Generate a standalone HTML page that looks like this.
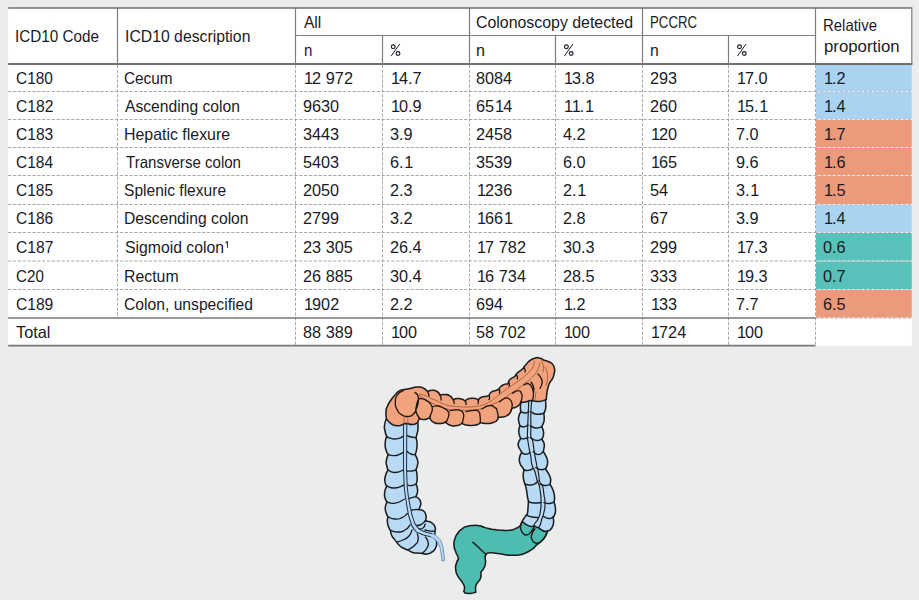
<!DOCTYPE html>
<html lang="en"><head><meta charset="utf-8"><title>Location of colorectal cancers by ICD10 code</title>
<style>
html,body{margin:0;padding:0}
body{width:919px;height:600px;overflow:hidden;position:relative;background:#ebeded;font-family:"Liberation Sans",sans-serif;color:#1b1b26}
#g{position:absolute;left:0;top:0}
.t{position:absolute;white-space:nowrap;font-size:16.5px;line-height:18.430px;height:18.430px;transform-origin:0 0;display:block}
.p{color:transparent}
.s{font-size:9.5px;line-height:10.6px;height:10.6px;color:transparent}
.d{transform:scaleX(.985);word-spacing:.2px}
.d i{font-style:normal;margin:0 -.1px}
.d b{font-weight:normal;position:relative;left:.9px}
</style></head><body>
<svg id="g" width="919" height="600" viewBox="0 0 919 600">
<rect x="8.2" y="8.0" width="903.5999999999999" height="337.8" fill="#fff"/>
<rect x="816.00" y="64.90" width="95.80" height="26.10" fill="#a9d3f0"/>
<rect x="816.00" y="92.00" width="95.80" height="27.00" fill="#a9d3f0"/>
<rect x="816.00" y="120.00" width="95.80" height="27.00" fill="#eb9a7b"/>
<rect x="816.00" y="148.00" width="95.80" height="27.00" fill="#eb9a7b"/>
<rect x="816.00" y="176.00" width="95.80" height="28.00" fill="#eb9a7b"/>
<rect x="816.00" y="205.00" width="95.80" height="27.00" fill="#a9d3f0"/>
<rect x="816.00" y="233.00" width="95.80" height="27.50" fill="#58c1ba"/>
<rect x="816.00" y="261.50" width="95.80" height="27.50" fill="#58c1ba"/>
<rect x="816.00" y="290.00" width="95.80" height="27.50" fill="#eb9a7b"/>
<line x1="8.20" y1="8.00" x2="912.40" y2="8.00" stroke="#6f6f6f" stroke-width="1.7"/>
<line x1="8.20" y1="64.00" x2="912.40" y2="64.00" stroke="#6f6f6f" stroke-width="1.8"/>
<line x1="295.50" y1="35.50" x2="815.50" y2="35.50" stroke="#7d7d7d" stroke-width="1.2"/>
<line x1="117.50" y1="8.00" x2="117.50" y2="64.00" stroke="#7d7d7d" stroke-width="1.2"/>
<line x1="295.50" y1="8.00" x2="295.50" y2="64.00" stroke="#7d7d7d" stroke-width="1.2"/>
<line x1="469.50" y1="8.00" x2="469.50" y2="64.00" stroke="#7d7d7d" stroke-width="1.2"/>
<line x1="642.50" y1="8.00" x2="642.50" y2="64.00" stroke="#7d7d7d" stroke-width="1.2"/>
<line x1="815.50" y1="8.00" x2="815.50" y2="64.00" stroke="#7d7d7d" stroke-width="1.2"/>
<line x1="911.80" y1="8.00" x2="911.80" y2="64.00" stroke="#7d7d7d" stroke-width="1.2"/>
<line x1="382.50" y1="35.50" x2="382.50" y2="64.00" stroke="#7d7d7d" stroke-width="1.2"/>
<line x1="555.50" y1="35.50" x2="555.50" y2="64.00" stroke="#7d7d7d" stroke-width="1.2"/>
<line x1="728.50" y1="35.50" x2="728.50" y2="64.00" stroke="#7d7d7d" stroke-width="1.2"/>
<line x1="8.20" y1="91.50" x2="815.50" y2="91.50" stroke="#a8a8a8" stroke-width="1" stroke-dasharray="3.2 1.65"/>
<line x1="815.50" y1="91.50" x2="911.80" y2="91.50" stroke="#8c8c8c" stroke-width="1" stroke-dasharray="3.2 1.65" stroke-opacity=".55"/>
<line x1="8.20" y1="119.50" x2="815.50" y2="119.50" stroke="#a8a8a8" stroke-width="1" stroke-dasharray="3.2 1.65"/>
<line x1="815.50" y1="119.50" x2="911.80" y2="119.50" stroke="#8c8c8c" stroke-width="1" stroke-dasharray="3.2 1.65" stroke-opacity=".55"/>
<line x1="8.20" y1="147.50" x2="815.50" y2="147.50" stroke="#a8a8a8" stroke-width="1" stroke-dasharray="3.2 1.65"/>
<line x1="815.50" y1="147.50" x2="911.80" y2="147.50" stroke="#8c8c8c" stroke-width="1" stroke-dasharray="3.2 1.65" stroke-opacity=".55"/>
<line x1="8.20" y1="175.50" x2="815.50" y2="175.50" stroke="#a8a8a8" stroke-width="1" stroke-dasharray="3.2 1.65"/>
<line x1="815.50" y1="175.50" x2="911.80" y2="175.50" stroke="#8c8c8c" stroke-width="1" stroke-dasharray="3.2 1.65" stroke-opacity=".55"/>
<line x1="8.20" y1="204.50" x2="815.50" y2="204.50" stroke="#a8a8a8" stroke-width="1" stroke-dasharray="3.2 1.65"/>
<line x1="815.50" y1="204.50" x2="911.80" y2="204.50" stroke="#8c8c8c" stroke-width="1" stroke-dasharray="3.2 1.65" stroke-opacity=".55"/>
<line x1="8.20" y1="232.50" x2="815.50" y2="232.50" stroke="#a8a8a8" stroke-width="1" stroke-dasharray="3.2 1.65"/>
<line x1="815.50" y1="232.50" x2="911.80" y2="232.50" stroke="#8c8c8c" stroke-width="1" stroke-dasharray="3.2 1.65" stroke-opacity=".55"/>
<line x1="8.20" y1="261.00" x2="815.50" y2="261.00" stroke="#a8a8a8" stroke-width="1" stroke-dasharray="3.2 1.65"/>
<line x1="815.50" y1="261.00" x2="911.80" y2="261.00" stroke="#8c8c8c" stroke-width="1" stroke-dasharray="3.2 1.65" stroke-opacity=".55"/>
<line x1="8.20" y1="289.50" x2="815.50" y2="289.50" stroke="#a8a8a8" stroke-width="1" stroke-dasharray="3.2 1.65"/>
<line x1="815.50" y1="289.50" x2="911.80" y2="289.50" stroke="#8c8c8c" stroke-width="1" stroke-dasharray="3.2 1.65" stroke-opacity=".55"/>
<line x1="117.50" y1="65.00" x2="117.50" y2="318.00" stroke="#a8a8a8" stroke-width="1" stroke-dasharray="3.2 1.65"/>
<line x1="295.50" y1="65.00" x2="295.50" y2="346.00" stroke="#a8a8a8" stroke-width="1" stroke-dasharray="3.2 1.65"/>
<line x1="382.50" y1="65.00" x2="382.50" y2="346.00" stroke="#a8a8a8" stroke-width="1" stroke-dasharray="3.2 1.65"/>
<line x1="469.50" y1="65.00" x2="469.50" y2="346.00" stroke="#a8a8a8" stroke-width="1" stroke-dasharray="3.2 1.65"/>
<line x1="555.50" y1="65.00" x2="555.50" y2="346.00" stroke="#a8a8a8" stroke-width="1" stroke-dasharray="3.2 1.65"/>
<line x1="642.50" y1="65.00" x2="642.50" y2="346.00" stroke="#a8a8a8" stroke-width="1" stroke-dasharray="3.2 1.65"/>
<line x1="728.50" y1="65.00" x2="728.50" y2="346.00" stroke="#a8a8a8" stroke-width="1" stroke-dasharray="3.2 1.65"/>
<line x1="815.50" y1="65.00" x2="815.50" y2="346.00" stroke="#a8a8a8" stroke-width="1" stroke-dasharray="3.2 1.65"/>
<line x1="8.20" y1="318.00" x2="815.50" y2="318.00" stroke="#777" stroke-width="1.5"/>
<line x1="815.50" y1="318.00" x2="911.80" y2="318.00" stroke="#a8a8a8" stroke-width="1" stroke-dasharray="3.2 1.65"/>
<line x1="8.20" y1="345.70" x2="815.50" y2="345.70" stroke="#777" stroke-width="1.8"/>
<g fill="none" stroke="#1b1b26" stroke-width="1.15" stroke-linecap="round"><circle cx="393.20" cy="46.8" r="1.9"/><circle cx="398.00" cy="53.5" r="1.9"/><line x1="399.50" y1="44.3" x2="391.40" y2="55.8" stroke-width="1"/></g>
<g fill="none" stroke="#1b1b26" stroke-width="1.15" stroke-linecap="round"><circle cx="566.40" cy="46.8" r="1.9"/><circle cx="571.20" cy="53.5" r="1.9"/><line x1="572.70" y1="44.3" x2="564.60" y2="55.8" stroke-width="1"/></g>
<g fill="none" stroke="#1b1b26" stroke-width="1.15" stroke-linecap="round"><circle cx="739.50" cy="46.8" r="1.9"/><circle cx="744.30" cy="53.5" r="1.9"/><line x1="745.80" y1="44.3" x2="737.70" y2="55.8" stroke-width="1"/></g>
<path d="M225.5 243.1L227.3 241.4M227.45 241.1V247.8" fill="none" stroke="#33333d" stroke-width="1.05"/>
<g id="colon">
<path d="M386.5 418.5C385.9 420.7 385.1 420.8 384.6 425.0C384.1 429.2 384.3 427.2 385.0 431.0C385.7 434.8 386.1 434.7 386.6 436.5C386.1 438.7 385.4 438.5 385.2 443.0C385.0 447.5 385.0 446.2 386.0 450.0C387.0 453.8 387.5 453.0 388.2 454.5C387.6 456.7 386.8 457.2 386.3 461.0C385.8 464.8 386.2 463.0 386.8 466.0C387.4 469.0 387.6 468.7 388.0 470.0C387.1 472.0 386.4 472.0 385.4 476.0C384.4 480.0 384.6 478.7 385.0 482.0C385.4 485.3 386.1 484.7 386.6 486.0C385.9 488.3 385.0 488.7 384.6 493.0C384.2 497.3 384.6 496.0 385.4 499.0C386.2 502.0 386.5 501.0 387.0 502.0C386.5 503.7 385.7 503.5 385.4 507.0C385.1 510.5 385.1 509.2 386.0 512.5C386.9 515.8 387.3 515.5 388.0 517.0C387.8 518.7 387.1 518.5 387.4 522.0C387.7 525.5 387.8 524.7 388.8 527.5C389.8 530.3 389.9 529.4 390.5 530.3C390.8 531.9 390.1 531.9 391.5 535.0C392.9 538.1 392.9 537.3 394.6 539.6C396.3 541.9 395.9 541.2 396.6 542.0C397.7 543.3 397.3 543.7 400.0 546.0C402.7 548.3 401.9 547.5 404.6 548.8C407.3 550.1 406.9 549.6 408.0 550.0C409.5 550.8 409.3 551.4 412.6 552.4C415.9 553.4 414.9 552.7 418.0 553.0C421.1 553.3 420.7 553.3 422.0 553.4C423.7 553.6 423.7 554.5 427.0 554.0C430.3 553.5 429.2 554.0 432.0 552.0C434.8 550.0 434.0 551.0 435.5 548.0C437.0 545.0 436.6 546.3 436.6 543.0C436.6 539.7 436.1 540.8 435.4 538.0C434.7 535.2 434.9 535.7 434.6 534.6C434.7 533.4 434.9 533.5 435.0 531.0C435.1 528.5 436.0 529.7 435.0 527.0C434.0 524.3 434.5 524.9 432.0 523.0C429.5 521.1 429.7 521.9 427.4 521.2C425.1 520.5 425.8 521.1 425.0 521.0C425.3 520.2 425.8 520.9 426.0 518.6C426.2 516.3 426.5 516.7 425.5 514.0C424.5 511.3 425.3 512.1 423.0 510.6C420.7 509.1 420.1 509.9 418.6 509.6C419.0 508.7 419.2 509.2 419.9 507.0C420.6 504.8 421.0 505.7 420.7 503.0C420.4 500.3 420.7 501.1 419.0 499.0C417.3 496.9 416.7 497.4 415.6 496.6C416.1 495.7 416.4 496.5 417.0 494.0C417.6 491.5 417.8 492.3 417.5 489.0C417.2 485.7 416.5 485.7 416.0 484.0C416.3 483.0 416.7 484.0 417.0 481.0C417.3 478.0 417.3 478.8 417.0 475.0C416.7 471.2 416.3 471.4 416.0 469.6C416.5 468.1 417.0 468.2 417.5 465.0C418.0 461.8 418.3 463.5 417.5 460.0C416.7 456.5 415.9 456.4 415.1 454.6C415.6 453.1 415.9 453.9 416.5 450.0C417.1 446.1 417.2 447.1 417.0 443.0C416.8 438.9 416.3 439.4 416.0 437.6C416.3 436.4 416.3 437.2 417.0 434.0C417.7 430.8 417.8 432.3 418.0 428.0C418.2 423.7 417.7 423.3 417.6 421.0C415.1 419.7 417.5 418.7 410.0 417.0C402.5 415.3 402.8 415.5 395.0 416.0C387.2 416.5 389.3 417.7 386.5 418.5Z" fill="#b8daf5" stroke="#1d1d1f" stroke-width="1.55" stroke-linejoin="round" stroke-linecap="round"/>
<path d="M386.6 436.5C388.1 437.1 387.2 437.7 391.0 438.4C394.8 439.1 393.9 439.4 398.0 438.6C402.1 437.8 401.6 436.9 403.4 436.0M388.2 454.5C389.8 454.9 389.4 455.6 393.0 455.6C396.6 455.6 395.5 455.8 399.0 454.6C402.5 453.4 402.0 452.9 403.5 452.0M388.0 470.0C390.3 470.8 389.9 472.5 395.0 472.5C400.1 472.5 400.6 470.8 403.4 470.0M386.6 486.0C389.4 486.7 389.2 488.3 395.0 488.0C400.8 487.7 401.0 486.0 404.0 485.0M387.0 502.0C389.7 502.4 389.1 504.2 395.0 503.2C400.9 502.2 401.4 500.4 404.6 499.0M388.0 517.0C390.3 517.7 390.3 518.8 395.0 519.0C399.7 519.2 397.9 519.4 402.0 517.6C406.1 515.8 405.6 514.9 407.4 513.6M390.5 530.3C393.0 530.9 393.2 532.1 398.0 532.0C402.8 531.9 401.0 532.3 405.0 530.0C409.0 527.7 408.3 526.7 410.0 525.0M396.6 542.0C398.7 541.3 398.9 542.0 403.0 540.0C407.1 538.0 406.0 539.3 409.0 536.0C412.0 532.7 411.0 532.0 412.0 530.0M408.0 550.0C410.3 548.3 411.7 548.3 415.0 545.0C418.3 541.7 417.2 543.7 418.0 540.0C418.8 536.3 417.6 536.0 417.4 534.0M422.0 553.4C423.7 551.6 425.0 551.8 427.0 548.0C429.0 544.2 428.5 545.7 428.0 542.0C427.5 538.3 426.3 538.7 425.4 537.0M407.0 435.4C408.3 435.9 408.0 436.3 411.0 437.0C414.0 437.7 414.3 437.4 416.0 437.6M407.0 451.4C408.3 452.3 408.3 452.9 411.0 454.0C413.7 455.1 413.7 454.4 415.1 454.6M407.0 471.0C408.7 471.0 409.0 471.5 412.0 471.0C415.0 470.5 414.7 470.1 416.0 469.6M407.4 485.2C408.9 485.3 409.1 485.9 412.0 485.5C414.9 485.1 414.7 484.5 416.0 484.0M408.6 499.0C409.7 498.5 409.7 498.4 412.0 497.6C414.3 496.8 414.4 496.9 415.6 496.6M411.0 510.2C412.3 510.0 412.5 509.8 415.0 509.6C417.5 509.4 417.4 509.6 418.6 509.6M415.0 525.0C416.7 525.0 416.7 526.2 420.0 525.0C423.3 523.8 423.3 522.6 425.0 521.4M418.0 529.0C419.7 528.7 420.6 529.7 423.0 528.0C425.4 526.3 424.5 525.3 425.2 524.0M425.0 530.0C427.0 530.4 427.7 530.9 431.0 531.2C434.3 531.5 433.7 531.1 435.0 531.0" fill="none" stroke="#1d1d1f" stroke-width="1.35" stroke-linejoin="round" stroke-linecap="round"/>
<path d="M403.5 424.5C403.5 436.3 403.5 444.8 403.5 460.0C403.5 475.2 403.4 463.3 403.6 470.0C403.8 476.7 403.7 473.3 404.0 480.0C404.3 486.7 403.9 483.3 404.6 490.0C405.3 496.7 405.0 493.3 406.0 500.0C407.0 506.7 406.3 503.3 407.6 510.0C408.9 516.7 407.7 513.5 410.0 520.0C412.3 526.5 410.7 524.9 414.4 529.6C418.1 534.3 415.8 531.7 421.0 534.0C426.2 536.3 425.0 534.3 430.0 536.4C435.0 538.5 432.9 537.2 436.0 540.4C439.1 543.6 437.7 541.8 439.4 546.0C441.1 550.2 440.1 548.1 441.0 553.0C441.9 557.9 441.7 558.1 442.0 560.6L444.4 560.2C444.1 557.5 444.4 557.4 443.6 552.0C442.8 546.6 443.9 548.9 442.0 544.0C440.1 539.1 441.5 540.9 438.0 537.4C434.5 533.9 436.6 535.5 431.6 533.4C426.6 531.3 427.9 533.3 423.0 531.0C418.1 528.7 420.3 530.7 417.0 526.6C413.7 522.5 415.2 524.1 413.2 518.6C411.2 513.1 412.4 516.2 411.0 510.0C409.6 503.8 410.1 506.7 409.0 500.0C407.9 493.3 408.3 496.7 407.6 490.0C406.9 483.3 407.3 486.7 407.0 480.0C406.7 473.3 406.7 476.7 406.6 470.0C406.5 463.3 406.5 475.3 406.6 460.0C406.7 444.7 406.7 436.0 406.8 424.0Z" fill="#b8daf5" stroke="none" stroke-width="0" stroke-linejoin="round" stroke-linecap="round"/>
<path d="M430.0 536.4C432.0 537.7 432.9 537.2 436.0 540.4C439.1 543.6 437.7 541.8 439.4 546.0C441.1 550.2 440.1 548.1 441.0 553.0C441.9 557.9 441.7 558.1 442.0 560.6M431.6 533.4C433.7 534.7 434.5 533.9 438.0 537.4C441.5 540.9 440.1 539.1 442.0 544.0C443.9 548.9 442.8 546.6 443.6 552.0C444.4 557.4 444.1 557.5 444.4 560.2" fill="none" stroke="#6b8bb0" stroke-width="1.0" stroke-linejoin="round" stroke-linecap="round"/>
<path d="M442.0 560.6 Q443.4 562 444.4 560.2" fill="none" stroke="#6b8bb0" stroke-width="1.0" stroke-linejoin="round" stroke-linecap="round"/>
<path d="M403.5 424.5C403.5 436.3 403.5 444.8 403.5 460.0C403.5 475.2 403.4 463.3 403.6 470.0C403.8 476.7 403.7 473.3 404.0 480.0C404.3 486.7 403.9 483.3 404.6 490.0C405.3 496.7 405.0 493.3 406.0 500.0C407.0 506.7 406.3 503.3 407.6 510.0C408.9 516.7 407.7 513.5 410.0 520.0C412.3 526.5 410.7 524.9 414.4 529.6C418.1 534.3 415.8 531.7 421.0 534.0C426.2 536.3 427.0 535.6 430.0 536.4M406.8 424.0C406.7 436.0 406.7 444.7 406.6 460.0C406.5 475.3 406.5 463.3 406.6 470.0C406.7 476.7 406.7 473.3 407.0 480.0C407.3 486.7 406.9 483.3 407.6 490.0C408.3 496.7 407.9 493.3 409.0 500.0C410.1 506.7 409.6 503.8 411.0 510.0C412.4 516.2 411.2 513.1 413.2 518.6C415.2 524.1 413.7 522.5 417.0 526.6C420.3 530.7 418.1 528.7 423.0 531.0C427.9 533.3 428.7 532.6 431.6 533.4" fill="none" stroke="#26344a" stroke-width="1.05" stroke-linejoin="round" stroke-linecap="round"/>
<path d="M520.8 401.7C520.7 403.6 520.4 404.2 520.4 407.5C520.4 410.8 520.7 410.3 520.8 411.7C520.1 413.4 519.5 413.4 518.8 416.7C518.1 420.0 518.4 418.7 518.8 421.7C519.2 424.7 519.6 424.4 520.0 425.8C519.6 427.5 518.9 427.5 518.8 430.8C518.7 434.1 518.9 433.3 519.6 435.8C520.3 438.3 520.4 437.5 520.8 438.3C520.1 439.7 519.4 439.9 518.6 442.5C517.8 445.1 517.8 443.5 518.4 446.0C519.0 448.5 519.3 447.8 520.4 450.0C521.5 452.2 521.3 451.7 521.7 452.5C521.0 454.2 520.2 453.9 519.6 457.5C519.0 461.1 519.0 460.0 520.0 463.3C521.0 466.6 521.1 465.3 522.5 467.5C523.9 469.7 523.6 469.2 524.2 470.0C523.9 471.7 523.3 471.3 523.2 475.0C523.1 478.7 523.4 478.0 524.0 481.0C524.6 484.0 524.7 483.0 525.0 484.0C525.5 486.0 525.7 485.7 526.5 490.0C527.3 494.3 526.8 493.2 527.5 497.0C528.2 500.8 528.2 500.0 528.5 501.5C528.3 503.7 528.3 504.2 528.0 508.0C527.7 511.8 528.0 510.7 527.5 513.0C527.0 515.3 526.8 514.3 526.5 515.0C525.5 516.3 525.2 516.3 523.5 519.0C521.8 521.7 522.2 521.7 521.5 523.0C523.0 525.0 524.5 527.0 526.0 529.0C530.7 530.3 535.3 531.7 540.0 533.0C542.5 532.3 545.0 531.7 547.5 531.0C548.5 530.5 548.8 531.1 550.4 529.6C552.0 528.1 551.3 529.1 552.4 526.6C553.5 524.1 553.4 525.2 553.6 522.0C553.8 518.8 553.2 518.7 553.0 517.0C553.5 516.3 553.7 517.7 554.5 515.0C555.3 512.3 555.7 513.3 555.5 509.0C555.3 504.7 554.5 504.3 554.0 502.0C554.2 500.3 554.8 501.0 554.5 497.0C554.2 493.0 554.5 494.2 553.0 490.0C551.5 485.8 551.0 486.3 550.0 484.4C550.2 483.3 550.5 483.1 550.6 481.0C550.7 478.9 551.1 480.5 550.4 478.0C549.7 475.5 550.1 476.5 548.4 473.4C546.7 470.3 546.4 470.3 545.4 468.8C545.9 467.8 546.3 468.5 547.0 465.8C547.7 463.1 547.9 464.1 547.5 460.8C547.1 457.5 547.2 458.8 545.8 455.8C544.4 452.8 544.1 453.1 543.3 451.7C543.5 450.8 543.5 451.5 543.8 449.0C544.1 446.5 544.6 447.1 544.2 444.2C543.8 441.3 543.4 442.1 542.6 440.4C541.8 438.7 542.0 439.6 541.7 439.2C542.2 438.1 542.8 438.6 543.3 435.8C543.8 433.0 543.8 433.8 543.3 430.8C542.8 427.8 542.2 428.1 541.7 426.7C542.2 425.6 542.5 425.8 543.3 423.3C544.1 420.8 544.0 422.5 544.2 419.2C544.4 415.9 543.9 415.3 543.8 413.3C544.2 412.5 544.3 413.3 545.0 410.8C545.7 408.3 545.7 409.6 545.8 405.8C545.9 402.0 545.5 401.6 545.4 399.5C541.9 398.7 543.2 396.3 535.0 397.0C526.8 397.7 525.5 400.1 520.8 401.7Z" fill="#b8daf5" stroke="#1d1d1f" stroke-width="1.55" stroke-linejoin="round" stroke-linecap="round"/>
<path d="M520.8 411.7C522.2 412.1 522.3 413.0 525.0 413.0C527.7 413.0 527.5 412.1 528.8 411.7M520.0 425.8C521.4 426.1 521.5 427.1 524.2 426.8C526.9 426.5 526.7 425.6 528.0 425.0M520.8 438.3C521.9 438.5 521.7 439.1 524.2 438.8C526.7 438.5 526.9 437.9 528.2 437.5M521.7 452.5C523.1 453.1 523.0 454.2 525.8 454.2C528.6 454.2 528.6 453.1 530.0 452.5M524.2 470.0C525.6 470.1 525.4 470.9 528.4 470.4C531.4 469.9 531.7 469.1 533.3 468.4M525.0 484.0C527.0 484.3 527.3 485.3 531.0 485.0C534.7 484.7 533.7 484.3 536.0 483.0C538.3 481.7 537.3 481.7 538.0 481.0M528.5 501.5C530.3 502.0 529.8 502.7 534.0 503.0C538.2 503.3 538.7 502.7 541.0 502.5M526.5 515.0C528.3 515.7 528.2 516.2 532.0 517.0C535.8 517.8 536.0 517.3 538.0 517.5M530.8 411.7C532.8 412.5 532.4 413.7 536.7 414.2C541.0 414.7 541.4 413.6 543.8 413.3M530.4 425.8C532.2 426.5 532.0 427.7 535.8 428.0C539.6 428.3 539.7 427.1 541.7 426.7M530.4 437.5C532.2 438.5 532.0 439.8 535.8 440.4C539.6 441.0 539.7 439.6 541.7 439.2M533.3 451.7C535.0 452.7 535.0 454.6 538.3 454.6C541.6 454.6 541.6 452.7 543.3 451.7M535.8 467.5C537.5 468.2 537.6 469.2 540.8 469.6C544.0 470.0 543.9 469.1 545.4 468.8M540.0 484.0C541.7 484.5 541.7 485.4 545.0 485.5C548.3 485.6 548.3 484.8 550.0 484.4M544.0 502.5C545.7 502.8 545.7 503.7 549.0 503.5C552.3 503.3 552.3 502.5 554.0 502.0M543.5 516.5C545.3 517.2 545.8 518.3 549.0 518.5C552.2 518.7 551.7 517.5 553.0 517.0" fill="none" stroke="#1d1d1f" stroke-width="1.45" stroke-linejoin="round" stroke-linecap="round"/>
<path d="M528.8 400.8C528.6 404.4 528.6 403.9 528.3 411.7C528.0 419.5 528.1 415.9 527.8 424.2C527.5 432.5 527.4 431.1 527.4 436.7C527.5 442.3 527.4 437.1 527.9 441.0C528.5 444.9 528.2 443.1 529.1 448.3C530.1 453.5 529.8 451.1 530.8 456.7C531.7 462.3 530.6 460.0 532.0 465.0C533.4 470.0 533.3 466.7 534.9 471.7C536.6 476.7 535.7 475.6 537.0 480.0C538.4 484.4 538.0 481.7 539.0 485.0C540.0 488.3 539.4 485.0 540.0 490.0C540.7 495.0 540.9 493.3 541.0 500.0C541.2 506.7 541.4 504.0 540.5 510.0C539.7 516.0 540.5 513.3 538.5 518.0C536.5 522.7 536.9 520.0 534.5 524.0C532.2 528.0 533.2 526.7 531.5 530.0C529.9 533.3 530.2 532.7 529.5 534.0M531.7 400.8C531.4 404.4 531.2 403.1 530.9 411.7C530.6 420.3 530.9 418.4 530.9 426.7C530.9 435.0 530.4 432.3 530.9 436.7C531.4 441.1 531.5 436.1 532.5 440.0C533.5 443.9 532.9 442.7 533.8 448.3C534.7 453.9 534.1 451.1 535.1 456.7C536.1 462.3 535.6 459.5 536.7 465.0C537.8 470.5 537.5 467.7 538.5 473.3C539.5 478.9 538.4 477.5 539.7 481.7C541.0 485.9 541.1 481.6 542.5 486.0C543.9 490.4 543.2 489.3 544.0 495.0C544.8 500.7 545.0 497.3 545.0 503.0C545.0 508.7 545.2 506.3 544.0 512.0C542.8 517.7 543.0 515.3 541.5 520.0C540.0 524.7 541.8 522.0 539.5 526.0C537.2 530.0 537.0 528.3 534.5 532.0C532.0 535.7 532.8 535.3 532.0 537.0" fill="none" stroke="#1d1d1f" stroke-width="1.15" stroke-linejoin="round" stroke-linecap="round"/>
<path d="M521.5 523.0C521.0 523.9 522.0 523.9 520.0 525.8C518.0 527.7 519.0 527.1 515.5 528.6C512.0 530.1 514.0 529.6 509.5 530.2C505.0 530.8 507.0 530.5 502.0 530.3C497.0 530.1 499.0 530.1 494.5 529.5C490.0 528.9 492.0 529.4 488.5 528.6C485.0 527.8 487.0 528.1 484.0 527.2C481.0 526.3 483.0 526.4 479.5 525.8C476.0 525.2 477.5 525.3 473.5 525.4C469.5 525.5 471.3 525.1 467.5 526.2C463.7 527.3 465.4 526.5 462.2 528.8C459.0 531.1 460.3 529.7 457.8 533.2C455.3 536.7 456.1 535.2 454.8 539.2C453.5 543.2 453.8 541.2 454.0 545.2C454.2 549.2 454.2 547.4 455.5 551.2C456.8 555.0 456.8 554.0 457.8 556.5C458.8 559.0 458.3 558.0 458.5 558.8C457.7 560.5 457.1 560.3 456.2 564.0C455.3 567.7 455.3 566.0 455.8 570.0C456.3 574.0 455.9 572.3 457.8 576.0C459.7 579.7 459.5 578.2 461.5 581.2C463.5 584.2 462.8 582.7 463.8 585.0C464.8 587.3 464.5 585.9 464.5 588.0C464.5 590.1 464.0 590.3 463.8 591.4C464.3 592.0 464.7 592.6 465.2 593.2C467.0 593.3 467.0 593.7 470.5 593.4C474.0 593.1 474.0 592.6 475.8 592.2C475.7 590.8 475.4 590.7 475.6 588.0C475.8 585.3 475.0 587.2 476.5 584.2C478.0 581.2 478.7 582.2 480.2 579.0C481.7 575.8 480.8 576.8 481.0 574.5C481.2 572.2 480.8 573.0 480.7 572.2C481.8 570.7 482.4 571.0 484.0 567.8C485.6 564.6 485.1 565.8 485.5 562.5C485.9 559.2 485.0 560.7 485.2 558.0C485.4 555.3 484.6 556.1 486.2 554.4C487.8 552.7 486.2 553.1 490.0 552.8C493.8 552.5 492.5 552.9 497.5 553.5C502.5 554.1 500.0 554.1 505.0 554.7C510.0 555.3 507.5 555.3 512.5 555.3C517.5 555.3 515.5 555.5 520.0 554.7C524.5 553.9 522.0 554.6 526.0 552.8C530.0 551.0 528.5 551.8 532.0 549.3C535.5 546.8 533.5 547.8 536.5 545.2C539.5 542.6 538.2 544.2 541.0 541.5C543.8 538.8 543.1 539.5 544.8 537.0C546.5 534.5 545.3 536.0 546.2 534.0C547.1 532.0 547.1 532.0 547.5 531.0C547.0 531.2 547.8 531.9 546.0 531.6C544.2 531.3 544.3 531.4 542.0 530.2C539.7 529.0 540.0 528.7 539.0 528.0C538.2 527.7 537.4 527.5 536.6 527.2C535.9 526.8 535.1 526.4 534.4 526.0C533.6 526.2 534.5 526.8 532.0 526.5C529.5 526.2 530.0 526.4 527.0 525.0C524.0 523.6 524.8 522.9 523.0 522.2C521.2 521.5 522.0 522.7 521.5 523.0Z" fill="#4dbdb0" stroke="#1d1d1f" stroke-width="1.55" stroke-linejoin="round" stroke-linecap="round"/>
<path d="M521.5 523.0C521.2 524.7 520.1 524.6 520.6 528.0C521.1 531.4 520.9 530.9 523.0 533.2C525.1 535.5 524.3 535.0 526.8 534.8C529.3 534.6 528.3 534.8 530.5 532.5C532.7 530.2 532.2 530.2 533.5 528.0C534.8 525.8 534.1 526.7 534.4 526.0M535.0 528.8C534.0 530.5 533.0 530.5 532.0 534.0C531.0 537.5 530.7 536.2 532.0 539.2C533.3 542.2 532.8 542.2 535.8 543.0C538.8 543.8 537.8 543.8 541.0 541.5C544.2 539.2 543.5 539.2 545.5 536.2C547.5 533.2 546.5 533.7 547.0 532.5M472.8 542.2C474.3 543.5 474.0 543.0 477.2 546.0C480.4 549.0 479.5 548.4 482.5 551.2C485.5 554.0 485.0 553.3 486.2 554.4" fill="none" stroke="#1d1d1f" stroke-width="1.45" stroke-linejoin="round" stroke-linecap="round"/>
<path d="M386.5 419.0C386.3 416.7 385.7 416.3 386.0 412.0C386.3 407.7 385.8 410.0 387.5 406.0C389.2 402.0 388.5 403.7 391.0 400.0C393.5 396.3 392.3 397.9 395.0 395.0C397.7 392.1 396.0 393.0 399.0 391.2C402.0 389.4 400.3 390.4 404.0 389.5C407.7 388.6 406.7 389.2 410.0 388.5C413.3 387.8 411.0 388.0 414.0 387.5C417.0 387.0 415.7 386.7 419.0 387.0C422.3 387.3 421.2 387.0 424.0 388.5C426.8 390.0 426.3 390.5 427.5 391.5C429.0 391.1 428.8 390.3 432.0 390.3C435.2 390.3 434.3 389.9 437.0 391.5C439.7 393.1 439.0 393.8 440.0 395.0C441.7 394.8 441.7 394.2 445.0 394.5C448.3 394.8 447.3 394.3 450.0 396.0C452.7 397.7 452.0 398.4 453.0 399.6C454.5 399.2 454.5 398.6 457.5 398.5C460.5 398.4 459.4 398.5 462.0 399.3C464.6 400.1 464.1 400.4 465.2 401.0C466.5 400.2 465.9 399.4 469.2 398.6C472.5 397.8 472.0 398.0 475.0 398.5C478.0 399.0 477.2 399.6 478.3 400.2C479.2 399.3 478.3 398.8 481.0 397.5C483.7 396.2 483.8 396.8 486.5 396.2C489.2 395.6 488.2 395.9 489.1 395.8C489.7 394.7 488.5 394.3 490.8 392.5C493.1 390.7 493.3 391.4 496.0 390.4C498.7 389.4 498.0 389.7 499.0 389.4C499.5 388.5 498.7 388.5 500.5 386.8C502.3 385.1 501.9 385.4 504.3 384.4C506.7 383.4 506.4 384.6 507.8 383.8C509.2 383.0 508.2 382.7 508.4 382.1C509.0 381.1 508.1 381.1 510.2 379.2C512.3 377.3 512.9 377.9 514.8 376.3C516.7 374.7 515.6 375.1 516.0 374.5C516.8 373.7 516.0 374.1 518.3 372.2C520.6 370.3 521.2 370.3 523.0 368.7C524.8 367.1 523.4 367.9 523.6 367.5C524.6 366.3 524.4 366.3 526.5 364.0C528.6 361.7 527.3 362.4 530.0 360.5C532.7 358.6 531.6 359.0 534.7 358.2C537.8 357.4 536.3 357.4 539.3 358.0C542.3 358.6 542.2 359.3 543.6 360.0C545.3 360.6 545.8 360.4 548.7 361.7C551.6 363.0 550.3 361.7 552.2 364.0C554.1 366.3 553.9 365.2 554.5 368.7C555.1 372.2 554.7 371.0 553.9 374.5C553.1 378.0 553.6 376.5 552.2 379.2C550.8 381.9 551.2 380.0 549.8 382.7C548.4 385.4 549.1 383.8 548.1 387.3C547.1 390.8 547.5 389.2 546.9 393.2C546.3 397.2 546.5 397.3 546.3 399.4C544.2 400.1 544.1 400.9 540.0 401.4C535.9 401.9 536.9 401.3 534.0 401.0C531.1 400.7 532.3 400.6 531.4 400.4C530.7 400.5 529.9 400.7 529.2 400.8C527.8 401.2 527.9 401.5 525.0 402.0C522.1 402.5 522.1 402.3 520.6 402.4C520.2 403.2 520.9 403.2 519.3 404.8C517.7 406.4 518.1 406.0 515.8 407.2C513.5 408.4 513.8 407.3 512.3 408.3C510.8 409.3 511.6 409.5 511.2 410.1C510.8 411.1 511.6 411.1 510.0 413.0C508.4 414.9 509.2 414.5 506.5 415.9C503.8 417.3 504.5 416.7 501.8 417.1C499.1 417.5 499.5 417.1 498.3 417.1C497.9 418.1 498.7 418.3 497.2 420.0C495.7 421.7 496.8 421.1 493.7 422.3C490.6 423.5 491.7 423.3 487.8 423.5C483.9 423.7 484.5 423.3 482.0 422.9C479.5 422.5 480.9 422.5 480.3 422.3C479.7 422.9 480.7 423.1 478.5 424.1C476.3 425.1 477.3 424.9 473.8 425.3C470.3 425.7 471.5 425.7 468.0 425.3C464.5 424.9 465.2 424.9 463.3 424.1C461.4 423.3 462.6 423.3 462.2 422.9C461.4 423.5 462.1 423.7 459.8 424.7C457.5 425.7 458.3 425.6 455.2 425.8C452.1 426.0 453.2 426.1 450.5 425.3C447.8 424.5 448.6 424.7 447.0 423.5C445.4 422.3 446.2 422.4 445.8 421.8C445.0 422.2 445.8 422.3 443.5 422.9C441.2 423.5 442.2 423.7 439.0 423.6C435.8 423.5 436.8 423.9 434.0 422.5C431.2 421.1 431.9 421.5 430.6 419.5C429.3 417.5 430.2 417.5 430.0 416.5C429.3 417.2 430.3 417.5 428.0 418.5C425.7 419.5 426.0 419.7 423.0 419.5C420.0 419.3 420.3 418.5 419.0 418.0C418.8 418.9 419.3 418.8 418.4 420.6C417.5 422.4 418.5 422.1 416.4 423.4C414.3 424.7 414.8 424.5 412.0 424.6C409.2 424.7 409.3 423.9 408.0 423.6C406.7 423.6 405.3 423.6 404.0 423.6C403.0 424.1 403.7 424.5 401.0 425.2C398.3 425.9 399.3 426.1 396.0 425.6C392.7 425.1 394.2 425.8 391.0 423.6C387.8 421.4 388.0 420.5 386.5 419.0Z" fill="#f0a37d" stroke="#1d1d1f" stroke-width="1.55" stroke-linejoin="round" stroke-linecap="round"/>
<path d="M404.0 416.0C404.0 417.3 404.1 417.5 404.1 420.0C404.1 422.5 404.0 422.4 404.0 423.6M408.0 416.4C407.9 417.6 407.8 417.6 407.8 420.0C407.8 422.4 407.9 422.4 408.0 423.6M414.0 393.0C416.0 394.0 416.3 394.0 420.0 396.0C423.7 398.0 421.0 396.7 425.0 399.0C429.0 401.3 427.1 400.6 432.0 403.0C436.9 405.4 434.5 404.2 439.7 406.3C444.9 408.4 442.3 408.2 447.7 409.3C453.1 410.4 450.7 409.3 455.8 409.6C460.9 409.9 458.2 410.2 463.1 410.3C468.0 410.4 465.1 410.3 470.5 409.9C475.9 409.5 473.7 410.4 479.3 409.2C484.9 408.0 482.7 408.0 487.3 406.3C491.9 404.6 489.0 405.7 493.0 404.0C497.0 402.3 495.2 403.4 499.3 401.3C503.4 399.2 501.3 400.4 505.2 397.7C509.1 395.0 506.8 396.2 511.0 393.3C515.2 390.4 513.0 392.3 517.7 388.9C522.4 385.5 520.1 386.9 525.0 383.0C529.9 379.1 528.1 381.4 532.3 377.1C536.5 372.8 534.9 374.7 537.5 370.0C540.1 365.3 539.2 365.3 540.0 363.0M419.0 394.0C421.0 394.5 421.3 394.1 425.0 395.4C428.7 396.7 426.3 396.3 430.0 398.0C433.7 399.7 432.0 398.6 436.0 400.4C440.0 402.2 437.6 401.7 442.0 403.4C446.4 405.1 443.9 404.5 449.2 405.6C454.5 406.7 452.4 406.1 458.0 406.6C463.6 407.1 459.9 407.1 466.0 407.0C472.1 406.9 470.4 407.1 476.3 406.3C482.2 405.5 479.2 406.2 483.7 404.6C488.2 403.0 485.9 403.9 489.8 401.6C493.7 399.3 491.8 400.3 495.5 397.6C499.2 394.9 496.1 397.1 500.8 393.6C505.5 390.1 504.0 391.0 509.6 387.0C515.2 383.0 512.8 385.0 517.7 381.5C522.6 378.0 520.2 379.9 524.3 376.4C528.4 372.9 526.9 374.6 530.0 371.0C533.1 367.4 532.2 368.8 533.5 365.5C534.8 362.2 533.8 362.5 534.0 361.0M545.0 367.0C545.7 369.0 546.4 369.0 547.2 373.0C548.0 377.0 547.9 375.0 547.5 379.0C547.1 383.0 546.5 383.0 546.0 385.0M536.0 392.0C535.8 393.3 535.7 393.1 535.4 396.0C535.1 398.9 535.1 399.1 535.0 400.6M541.4 361.0C542.1 362.7 542.9 362.3 543.4 366.0C543.9 369.7 543.1 370.0 543.0 372.0" fill="none" stroke="#9a5532" stroke-width="0.85" stroke-linejoin="round" stroke-linecap="round"/>
<path d="M403.4 390.4C401.4 391.9 400.1 391.1 397.4 395.0C394.7 398.9 395.5 397.2 395.4 402.0C395.3 406.8 394.9 405.2 397.0 409.4C399.1 413.6 397.9 412.3 401.6 414.6C405.3 416.9 404.1 416.6 408.0 416.4C411.9 416.2 410.6 416.6 413.4 414.0C416.2 411.4 414.8 412.6 416.4 408.6C418.0 404.6 417.7 406.1 418.2 402.0C418.7 397.9 418.9 399.6 418.0 396.4C417.1 393.2 416.3 393.7 415.4 392.4M418.4 399.0C417.7 401.3 417.1 401.7 416.4 406.0C415.7 410.3 415.3 408.2 416.2 412.0C417.1 415.8 418.1 415.6 419.0 417.4M419.0 398.6C420.3 398.7 420.0 398.0 423.0 399.0C426.0 400.0 425.2 399.5 428.0 401.6C430.8 403.7 430.0 402.6 431.4 405.4C432.8 408.2 432.4 407.1 432.2 410.0C432.0 412.9 431.6 411.8 430.9 414.0C430.2 416.2 430.3 415.7 430.0 416.5M433.0 406.6C434.7 406.4 434.3 405.4 438.0 406.0C441.7 406.6 440.7 406.6 444.0 408.4C447.3 410.2 446.5 408.9 448.0 411.4C449.5 413.9 449.2 412.5 448.6 416.0C448.0 419.5 447.1 419.9 446.3 421.8M450.0 410.6C452.0 410.3 452.3 409.7 456.0 409.8C459.7 409.9 458.5 409.4 461.0 410.8C463.5 412.2 462.6 411.6 463.4 414.0C464.2 416.4 463.8 415.0 463.4 418.0C463.0 421.0 462.7 421.3 462.3 422.9M466.0 411.6C468.7 411.2 469.8 410.5 474.0 410.4C478.2 410.3 476.6 409.6 478.6 411.4C480.6 413.2 479.4 412.2 480.0 415.8C480.6 419.4 480.2 420.1 480.3 422.3M482.0 409.0C484.3 407.9 484.7 406.1 489.0 405.6C493.3 405.1 492.2 405.8 494.9 407.6C497.6 409.4 496.0 407.7 497.1 410.9C498.2 414.1 497.9 415.0 498.3 417.1M499.6 401.8C501.5 400.6 501.9 399.0 505.2 398.2C508.5 397.4 507.4 397.8 509.6 399.3C511.8 400.8 511.0 400.2 511.8 402.8C512.6 405.4 512.2 404.6 512.0 407.0C511.8 409.4 511.5 409.1 511.2 410.1M512.5 393.2C514.5 392.3 515.5 390.6 518.4 390.6C521.3 390.6 520.1 391.2 521.3 393.3C522.5 395.4 522.2 394.0 522.0 397.0C521.8 400.0 521.1 400.6 520.6 402.4M524.0 385.0C525.6 384.6 526.0 382.6 528.8 383.8C531.6 385.0 530.8 384.8 532.3 388.5C533.8 392.2 533.4 391.0 533.4 395.0C533.4 399.0 532.7 398.7 532.4 400.6M427.5 391.5C427.9 392.3 428.1 392.5 428.6 394.0C429.1 395.5 428.9 395.3 429.0 396.0M440.0 395.0C440.3 395.9 440.7 395.9 441.0 397.6C441.3 399.3 441.0 399.2 441.0 400.0M453.0 399.6C453.3 400.3 453.7 400.3 454.0 401.6C454.3 402.9 454.0 402.9 454.0 403.6M465.2 401.0C465.5 401.5 465.7 401.5 466.0 402.6C466.3 403.7 466.0 403.8 466.0 404.4M478.3 400.2C478.3 400.8 478.5 400.9 478.4 402.0C478.3 403.1 478.1 403.1 478.0 403.6M489.1 395.8C489.3 396.4 489.6 396.3 489.6 397.6C489.6 398.9 489.2 398.9 489.0 399.6M499.0 389.4C499.3 390.1 499.7 390.1 499.8 391.4C499.9 392.7 499.5 392.6 499.4 393.2M508.4 382.1C508.7 382.7 509.2 382.7 509.4 384.0C509.6 385.3 509.1 385.3 509.0 386.0M516.0 374.5C516.5 375.2 517.0 375.1 517.4 376.6C517.8 378.1 517.3 378.2 517.2 379.0M523.6 367.5C524.1 368.2 524.5 368.1 525.0 369.6C525.5 371.1 525.0 371.2 525.0 372.0M538.0 374.0C539.0 375.3 539.7 375.0 541.0 378.0C542.3 381.0 542.3 379.5 542.0 383.0C541.7 386.5 540.7 386.6 540.0 388.4M531.0 382.0C531.8 383.7 532.7 383.3 533.5 387.0C534.3 390.7 533.4 391.0 533.4 393.0" fill="none" stroke="#21140d" stroke-width="1.3" stroke-linejoin="round" stroke-linecap="round"/>
</g>
</svg>
<div id="tbl">
<span class="t" id="t0" style="left:15.21px;top:27.00px;transform:scaleX(0.9259)">ICD10 Code</span>
<span class="t" id="t1" style="left:124.82px;top:27.00px;transform:scaleX(0.9562)">ICD10 description</span>
<span class="t" id="t2" style="left:303.94px;top:13.00px;transform:scaleX(0.9404)">All</span>
<span class="t" id="t3" style="left:475.64px;top:13.00px;transform:scaleX(0.9626)">Colonoscopy detected</span>
<span class="t" id="t4" style="left:649.88px;top:13.00px;transform:scaleX(0.8018)">PCCRC</span>
<span class="t" id="t5" style="left:822.74px;top:16.00px;transform:scaleX(0.9049)">Relative</span>
<span class="t" id="t6" style="left:823.65px;top:37.00px;transform:scaleX(1.0174)">proportion</span>
<span class="t" id="t7" style="left:303.76px;top:41.00px;transform:scaleX(0.9123)">n</span>
<span class="t p" id="t8" style="left:390.54px;top:41.00px;transform:scaleX(0.6633)">%</span>
<span class="t" id="t9" style="left:476.08px;top:41.00px;transform:scaleX(0.9768)">n</span>
<span class="t p" id="t10" style="left:563.48px;top:41.00px;transform:scaleX(0.6969)">%</span>
<span class="t" id="t11" style="left:650.29px;top:41.00px;transform:scaleX(0.9534)">n</span>
<span class="t p" id="t12" style="left:736.07px;top:41.00px;transform:scaleX(0.6896)">%</span>
<span class="t" id="t13" style="left:15.66px;top:69.00px;transform:scaleX(0.9369)">C180</span>
<span class="t" id="t14" style="left:15.65px;top:97.00px;transform:scaleX(0.9469)">C182</span>
<span class="t" id="t15" style="left:15.65px;top:125.00px;transform:scaleX(0.9436)">C183</span>
<span class="t" id="t16" style="left:15.65px;top:153.00px;transform:scaleX(0.9375)">C184</span>
<span class="t" id="t17" style="left:15.67px;top:181.00px;transform:scaleX(0.9400)">C185</span>
<span class="t" id="t18" style="left:15.65px;top:209.00px;transform:scaleX(0.9439)">C186</span>
<span class="t" id="t19" style="left:15.65px;top:238.00px;transform:scaleX(0.9469)">C187</span>
<span class="t" id="t20" style="left:15.71px;top:267.00px;transform:scaleX(0.9208)">C20</span>
<span class="t" id="t21" style="left:15.66px;top:295.00px;transform:scaleX(0.9453)">C189</span>
<span class="t" id="t22" style="left:15.58px;top:323.00px;transform:scaleX(0.9899)">Total</span>
<span class="t" id="t23" style="left:123.70px;top:69.00px;transform:scaleX(0.9295)">Cecum</span>
<span class="t" id="t24" style="left:124.94px;top:97.00px;transform:scaleX(0.9488)">Ascending colon</span>
<span class="t" id="t25" style="left:124.10px;top:125.00px;transform:scaleX(0.9641)">Hepatic flexure</span>
<span class="t" id="t26" style="left:125.95px;top:153.00px;transform:scaleX(0.9130)">Transverse colon</span>
<span class="t" id="t27" style="left:123.66px;top:181.00px;transform:scaleX(0.9428)">Splenic flexure</span>
<span class="t" id="t28" style="left:124.29px;top:209.00px;transform:scaleX(0.9495)">Descending colon</span>
<span class="t" id="t29" style="left:124.65px;top:238.00px;transform:scaleX(0.9551)">Sigmoid colon</span>
<span class="t" id="t30" style="left:124.11px;top:267.00px;transform:scaleX(0.9608)">Rectum</span>
<span class="t" id="t31" style="left:123.66px;top:295.00px;transform:scaleX(0.9494)">Colon, unspecified</span>
<span class="t s" id="t32" style="left:224.10px;top:239.80px;transform:scaleX(0.9200)">1</span>
<span class="t d" style="left:303.10px;top:69.00px"><b>1</b>2 972</span>
<span class="t d" style="left:303.10px;top:97.00px">9630</span>
<span class="t d" style="left:303.10px;top:125.00px">3443</span>
<span class="t d" style="left:303.10px;top:153.00px">5403</span>
<span class="t d" style="left:303.10px;top:181.00px">2050</span>
<span class="t d" style="left:303.10px;top:209.00px">2799</span>
<span class="t d" style="left:303.10px;top:238.00px">23 305</span>
<span class="t d" style="left:303.10px;top:267.00px">26 885</span>
<span class="t d" style="left:303.10px;top:295.00px"><b>1</b>902</span>
<span class="t d" style="left:303.10px;top:323.00px">88 389</span>
<span class="t d" style="left:390.40px;top:69.00px"><b>1</b>4<i>.</i>7</span>
<span class="t d" style="left:390.40px;top:97.00px"><b>1</b>0<i>.</i>9</span>
<span class="t d" style="left:390.40px;top:125.00px">3<i>.</i>9</span>
<span class="t d" style="left:390.40px;top:153.00px">6<i>.</i><b>1</b></span>
<span class="t d" style="left:390.40px;top:181.00px">2<i>.</i>3</span>
<span class="t d" style="left:390.40px;top:209.00px">3<i>.</i>2</span>
<span class="t d" style="left:390.40px;top:238.00px">26<i>.</i>4</span>
<span class="t d" style="left:390.40px;top:267.00px">30<i>.</i>4</span>
<span class="t d" style="left:390.40px;top:295.00px">2<i>.</i>2</span>
<span class="t d" style="left:390.40px;top:323.00px"><b>1</b>00</span>
<span class="t d" style="left:475.70px;top:69.00px">8084</span>
<span class="t d" style="left:475.70px;top:97.00px">65<b>1</b>4</span>
<span class="t d" style="left:475.70px;top:125.00px">2458</span>
<span class="t d" style="left:475.70px;top:153.00px">3539</span>
<span class="t d" style="left:475.70px;top:181.00px"><b>1</b>236</span>
<span class="t d" style="left:475.70px;top:209.00px"><b>1</b>66<b>1</b></span>
<span class="t d" style="left:475.70px;top:238.00px"><b>1</b>7 782</span>
<span class="t d" style="left:475.70px;top:267.00px"><b>1</b>6 734</span>
<span class="t d" style="left:475.70px;top:295.00px">694</span>
<span class="t d" style="left:475.70px;top:323.00px">58 702</span>
<span class="t d" style="left:562.60px;top:69.00px"><b>1</b>3<i>.</i>8</span>
<span class="t d" style="left:562.60px;top:97.00px"><b>1</b><b>1</b><i>.</i><b>1</b></span>
<span class="t d" style="left:562.60px;top:125.00px">4<i>.</i>2</span>
<span class="t d" style="left:562.60px;top:153.00px">6<i>.</i>0</span>
<span class="t d" style="left:562.60px;top:181.00px">2<i>.</i><b>1</b></span>
<span class="t d" style="left:562.60px;top:209.00px">2<i>.</i>8</span>
<span class="t d" style="left:562.60px;top:238.00px">30<i>.</i>3</span>
<span class="t d" style="left:562.60px;top:267.00px">28<i>.</i>5</span>
<span class="t d" style="left:562.60px;top:295.00px"><b>1</b><i>.</i>2</span>
<span class="t d" style="left:562.60px;top:323.00px"><b>1</b>00</span>
<span class="t d" style="left:649.70px;top:69.00px">293</span>
<span class="t d" style="left:649.70px;top:97.00px">260</span>
<span class="t d" style="left:649.70px;top:125.00px"><b>1</b>20</span>
<span class="t d" style="left:649.70px;top:153.00px"><b>1</b>65</span>
<span class="t d" style="left:649.70px;top:181.00px">54</span>
<span class="t d" style="left:649.70px;top:209.00px">67</span>
<span class="t d" style="left:649.70px;top:238.00px">299</span>
<span class="t d" style="left:649.70px;top:267.00px">333</span>
<span class="t d" style="left:649.70px;top:295.00px"><b>1</b>33</span>
<span class="t d" style="left:649.70px;top:323.00px"><b>1</b>724</span>
<span class="t d" style="left:735.60px;top:69.00px"><b>1</b>7<i>.</i>0</span>
<span class="t d" style="left:735.60px;top:97.00px"><b>1</b>5<i>.</i><b>1</b></span>
<span class="t d" style="left:735.60px;top:125.00px">7<i>.</i>0</span>
<span class="t d" style="left:735.60px;top:153.00px">9<i>.</i>6</span>
<span class="t d" style="left:735.60px;top:181.00px">3<i>.</i><b>1</b></span>
<span class="t d" style="left:735.60px;top:209.00px">3<i>.</i>9</span>
<span class="t d" style="left:735.60px;top:238.00px"><b>1</b>7<i>.</i>3</span>
<span class="t d" style="left:735.60px;top:267.00px"><b>1</b>9<i>.</i>3</span>
<span class="t d" style="left:735.60px;top:295.00px">7<i>.</i>7</span>
<span class="t d" style="left:735.60px;top:323.00px"><b>1</b>00</span>
<span class="t d" style="left:823.20px;top:69.00px"><b>1</b><i>.</i>2</span>
<span class="t d" style="left:823.20px;top:97.00px"><b>1</b><i>.</i>4</span>
<span class="t d" style="left:823.20px;top:125.00px"><b>1</b><i>.</i>7</span>
<span class="t d" style="left:823.20px;top:153.00px"><b>1</b><i>.</i>6</span>
<span class="t d" style="left:823.20px;top:181.00px"><b>1</b><i>.</i>5</span>
<span class="t d" style="left:823.20px;top:209.00px"><b>1</b><i>.</i>4</span>
<span class="t d" style="left:823.20px;top:238.00px">0<i>.</i>6</span>
<span class="t d" style="left:823.20px;top:267.00px">0<i>.</i>7</span>
<span class="t d" style="left:823.20px;top:295.00px">6<i>.</i>5</span>
</div>
</body></html>
